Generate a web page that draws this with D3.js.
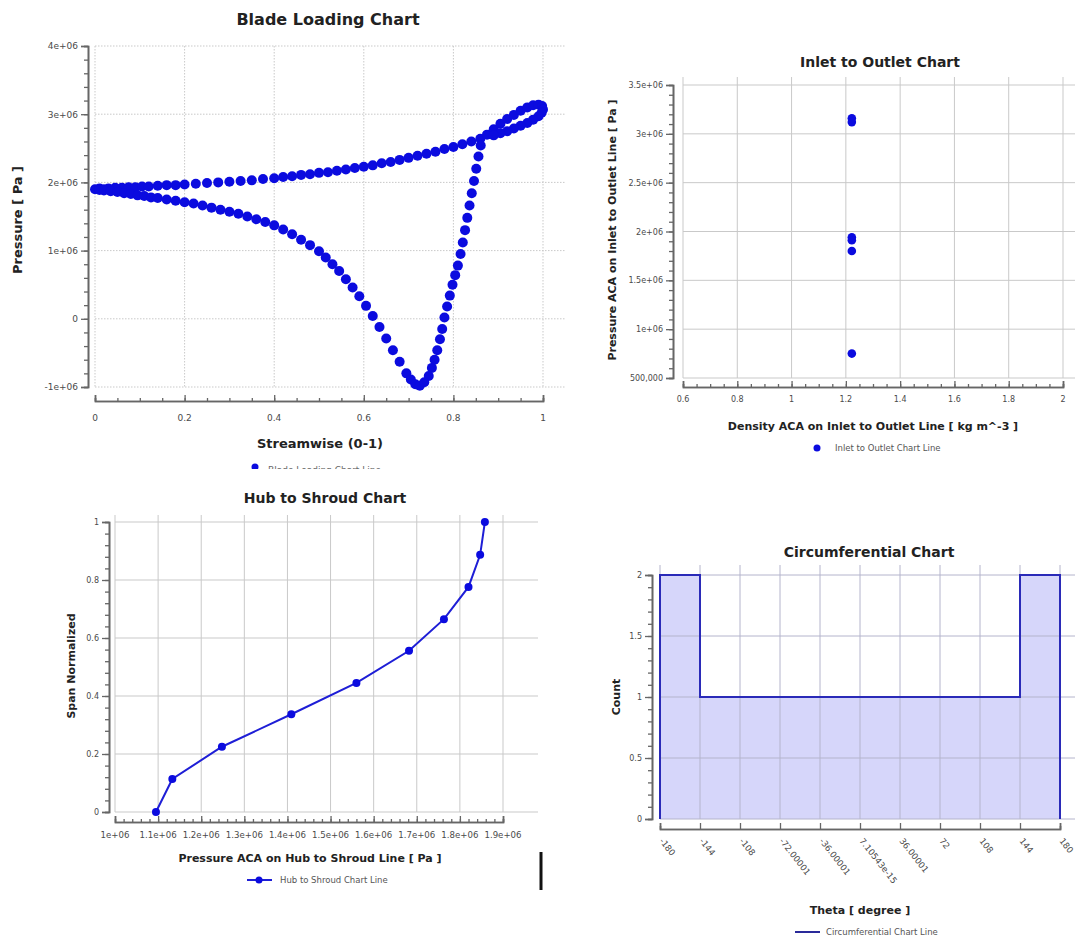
<!DOCTYPE html>
<html>
<head>
<meta charset="utf-8">
<script src="https://cdn.jsdelivr.net/npm/d3@7"></script>
<style>
  body { margin: 0; background: #fff; }
  text { font-family: "DejaVu Sans", Verdana, sans-serif; }
</style>
</head>
<body>
<svg id="canvas" width="1075" height="938"></svg>
<script>
// ---- Blade Loading Chart data (streamwise 0-1, pressure Pa) ----
const bladeUpperX = [0, 0.01, 0.02, 0.03, 0.045, 0.06, 0.075, 0.09, 0.105, 0.12, 0.14, 0.16, 0.18, 0.2, 0.225, 0.25, 0.275, 0.3, 0.325, 0.35, 0.375, 0.4, 0.42, 0.44, 0.46, 0.48, 0.5, 0.52, 0.54, 0.56, 0.58, 0.6, 0.62, 0.64, 0.66, 0.68, 0.7, 0.72, 0.74, 0.76, 0.78, 0.8, 0.82, 0.84, 0.86];
const bladeUpperP = [1.90e6, 1.91e6, 1.90e6, 1.91e6, 1.92e6, 1.92e6, 1.93e6, 1.93e6, 1.94e6, 1.94e6, 1.95e6, 1.96e6, 1.96e6, 1.97e6, 1.98e6, 1.99e6, 2.00e6, 2.01e6, 2.02e6, 2.03e6, 2.05e6, 2.06e6, 2.08e6, 2.09e6, 2.11e6, 2.12e6, 2.14e6, 2.15e6, 2.17e6, 2.19e6, 2.21e6, 2.23e6, 2.25e6, 2.28e6, 2.30e6, 2.33e6, 2.36e6, 2.39e6, 2.42e6, 2.45e6, 2.49e6, 2.52e6, 2.56e6, 2.60e6, 2.64e6];
const bladeLoopX = [0.875, 0.89, 0.905, 0.92, 0.935, 0.95, 0.965, 0.978, 0.99, 0.998, 1.0, 0.997, 0.99, 0.978, 0.965, 0.95, 0.935, 0.92, 0.905, 0.89];
const bladeLoopP = [2.70e6, 2.78e6, 2.86e6, 2.93e6, 2.99e6, 3.05e6, 3.10e6, 3.13e6, 3.14e6, 3.12e6, 3.07e6, 3.02e6, 2.97e6, 2.92e6, 2.87e6, 2.83e6, 2.79e6, 2.75e6, 2.72e6, 2.69e6];
const bladeLowerX = [0.01, 0.02, 0.035, 0.05, 0.065, 0.08, 0.095, 0.11, 0.125, 0.14, 0.16, 0.18, 0.2, 0.22, 0.24, 0.26, 0.28, 0.3, 0.32, 0.34, 0.36, 0.38, 0.4, 0.42, 0.44, 0.46, 0.48, 0.5, 0.515, 0.53, 0.545, 0.56, 0.575, 0.59, 0.605, 0.62, 0.635, 0.65, 0.665, 0.68, 0.695, 0.705, 0.715, 0.725, 0.735, 0.745, 0.752, 0.758, 0.764, 0.77, 0.775, 0.78, 0.786, 0.792, 0.798, 0.804, 0.81, 0.816, 0.821, 0.826, 0.831, 0.836, 0.841, 0.846, 0.851, 0.856, 0.861];
const bladeLowerP = [1.89e6, 1.88e6, 1.87e6, 1.86e6, 1.84e6, 1.83e6, 1.81e6, 1.80e6, 1.78e6, 1.77e6, 1.75e6, 1.73e6, 1.71e6, 1.69e6, 1.66e6, 1.63e6, 1.60e6, 1.57e6, 1.54e6, 1.50e6, 1.46e6, 1.42e6, 1.37e6, 1.31e6, 1.24e6, 1.16e6, 1.08e6, 0.99e6, 0.90e6, 0.80e6, 0.70e6, 0.58e6, 0.46e6, 0.33e6, 0.19e6, 0.04e6, -0.12e6, -0.29e6, -0.46e6, -0.63e6, -0.80e6, -0.89e6, -0.96e6, -0.98e6, -0.93e6, -0.84e6, -0.72e6, -0.60e6, -0.46e6, -0.30e6, -0.15e6, 0.02e6, 0.18e6, 0.34e6, 0.50e6, 0.64e6, 0.78e6, 0.95e6, 1.12e6, 1.30e6, 1.48e6, 1.66e6, 1.84e6, 2.02e6, 2.20e6, 2.38e6, 2.54e6];
const bladeYTicks = [-1e6, 0, 1e6, 2e6, 3e6, 4e6];
const bladeYLabels = ["-1e+06", "0", "1e+06", "2e+06", "3e+06", "4e+06"];
const bladeXTicks = [0, 0.2, 0.4, 0.6, 0.8, 1];
const bladeXLabels = ["0", "0.2", "0.4", "0.6", "0.8", "1"];

// ---- Inlet to Outlet Chart data ----
const inletDensity = [1.222, 1.222, 1.222, 1.222, 1.222, 1.222];
const inletPressure = [3.16e6, 3.12e6, 1.94e6, 1.91e6, 1.80e6, 0.75e6];
const inletYTicks = [5e5, 1e6, 1.5e6, 2e6, 2.5e6, 3e6, 3.5e6];
const inletYLabels = ["500,000", "1e+06", "1.5e+06", "2e+06", "2.5e+06", "3e+06", "3.5e+06"];
const inletXTicks = [0.6, 0.8, 1, 1.2, 1.4, 1.6, 1.8, 2];
const inletXLabels = ["0.6", "0.8", "1", "1.2", "1.4", "1.6", "1.8", "2"];

// ---- Hub to Shroud Chart data ----
const hubPressure = [1.095e6, 1.133e6, 1.248e6, 1.409e6, 1.560e6, 1.682e6, 1.763e6, 1.820e6, 1.847e6, 1.858e6];
const hubSpan = [0, 0.114, 0.225, 0.337, 0.445, 0.556, 0.665, 0.776, 0.887, 1.0];
const hubYTicks = [0, 0.2, 0.4, 0.6, 0.8, 1];
const hubYLabels = ["0", "0.2", "0.4", "0.6", "0.8", "1"];
const hubXTicks = [1e6, 1.1e6, 1.2e6, 1.3e6, 1.4e6, 1.5e6, 1.6e6, 1.7e6, 1.8e6, 1.9e6];
const hubXLabels = ["1e+06", "1.1e+06", "1.2e+06", "1.3e+06", "1.4e+06", "1.5e+06", "1.6e+06", "1.7e+06", "1.8e+06", "1.9e+06"];

// ---- Circumferential Chart data ----
const circBinEdges = [-180, -144, -108, -72, -36, 0, 36, 72, 108, 144, 180];
const circCounts = [2, 1, 1, 1, 1, 1, 1, 1, 1, 2];
const circXLabels = ["-180", "-144", "-108", "-72.00001", "-36.00001", "7.10543e-15", "36.00001", "72", "108", "144", "180"];
const circYTicks = [0, 0.5, 1, 1.5, 2];
const circYLabels = ["0", "0.5", "1", "1.5", "2"];

const svg = d3.select("#canvas");
svg.append("rect").attr("width", 1075).attr("height", 938).attr("fill", "#fff");

const blue = "#0b0bdf";
const gridCol = "#c9c9c9";
const tickCol = "#666";
const labCol = "#4a4a4a";

// draws gridlines, offset axes with minor ticks, axis titles and chart title
const frame = (g, o) => {
  const grid = g.append("g");
  grid.selectAll(".hg").data(o.yTicks).enter().append("line")
    .attr("x1", o.x.range()[0]).attr("x2", o.gridRight)
    .attr("y1", d => o.y(d)).attr("y2", d => o.y(d))
    .attr("stroke", o.gridColor || gridCol).attr("stroke-width", 1)
    .attr("stroke-dasharray", o.dotted ? "1.5,1.5" : null);
  grid.selectAll(".vg").data(o.xTicks).enter().append("line")
    .attr("x1", d => o.x(d)).attr("x2", d => o.x(d))
    .attr("y1", o.gridTop).attr("y2", o.y.range()[0])
    .attr("stroke", o.gridColor || gridCol).attr("stroke-width", 1)
    .attr("stroke-dasharray", o.dotted ? "1.5,1.5" : null);

  // y axis
  const ya = g.append("g").attr("transform", `translate(${o.yAxisX},0)`);
  ya.call(d3.axisLeft(o.y).tickValues(o.yMinor).tickFormat("").tickSize(4));
  ya.call(g2 => g2.append("g").call(d3.axisLeft(o.y).tickValues(o.yTicks).tickFormat((d, i) => o.yLabels[i]).tickSize(7)));
  ya.selectAll("path").attr("stroke", tickCol).attr("stroke-width", 1.6);
  ya.selectAll("line").attr("stroke", tickCol).attr("stroke-width", 1.3);
  ya.selectAll("text").attr("fill", labCol).attr("font-size", o.tickSize || 9);

  // x axis
  const xa = g.append("g").attr("transform", `translate(0,${o.xAxisY})`);
  xa.call(d3.axisTop(o.x).tickValues(o.xMinor).tickFormat("").tickSize(3));
  xa.call(g2 => g2.append("g").call(d3.axisTop(o.x).tickValues(o.xTicks).tickFormat("").tickSize(6)));
  xa.selectAll("path").attr("stroke", tickCol).attr("stroke-width", 1.6);
  xa.selectAll("line").attr("stroke", tickCol).attr("stroke-width", 1.3);
  if (!o.rotLabels) {
    xa.selectAll(".xl").data(o.xTicks).enter().append("text")
      .attr("x", d => o.x(d)).attr("y", o.xLabelDy)
      .attr("text-anchor", "middle").attr("fill", labCol)
      .attr("font-size", o.xTickSize || o.tickSize || 9)
      .text((d, i) => o.xLabels[i]);
  } else {
    xa.selectAll(".xl").data(o.xTicks).enter().append("text")
      .attr("transform", d => `translate(${o.x(d) - 1},${o.xLabelDy}) rotate(52)`)
      .attr("text-anchor", "start").attr("fill", labCol)
      .attr("font-size", o.xTickSize || o.tickSize || 9)
      .text((d, i) => o.xLabels[i]);
  }

  g.append("text").attr("x", o.titleX).attr("y", o.titleY)
    .attr("text-anchor", "middle").attr("font-weight", "bold")
    .attr("font-size", o.titleSize).attr("fill", "#222").text(o.title);
  g.append("text").attr("x", o.xTitleX).attr("y", o.xTitleY)
    .attr("text-anchor", "middle").attr("font-weight", "bold")
    .attr("font-size", o.axisTitleSize).attr("fill", "#222").text(o.xTitle);
  g.append("text").attr("transform", `translate(${o.yTitleX},${o.yTitleY}) rotate(-90)`)
    .attr("text-anchor", "middle").attr("font-weight", "bold")
    .attr("font-size", o.axisTitleSize).attr("fill", "#222").text(o.yTitle);
};

const range = (a, b, s) => d3.range(a, b + s / 2, s);

// ================= Blade Loading =================
svg.append("clipPath").attr("id", "bladeClip").append("rect")
  .attr("x", 0).attr("y", 0).attr("width", 580).attr("height", 469);
const blade = svg.append("g").attr("clip-path", "url(#bladeClip)");
const bx = d3.scaleLinear().domain([0, 1]).range([95, 543]);
const by = d3.scaleLinear().domain([-1e6, 4e6]).range([387, 46]);
frame(blade, {
  x: bx, y: by, xTicks: bladeXTicks, yTicks: bladeYTicks,
  xLabels: bladeXLabels, yLabels: bladeYLabels,
  xMinor: range(0, 1, 0.05), yMinor: range(-1e6, 4e6, 2e5),
  gridRight: 566, gridTop: 46, dotted: true,
  yAxisX: 88, xAxisY: 401, xLabelDy: 20, tickSize: 9,
  title: "Blade Loading Chart", titleX: 328, titleY: 25, titleSize: 16,
  xTitle: "Streamwise (0-1)", xTitleX: 320, xTitleY: 448,
  yTitle: "Pressure [ Pa ]", yTitleX: 22, yTitleY: 220, axisTitleSize: 13
});
const bladePts = [
  ...bladeUpperX.map((d, i) => [d, bladeUpperP[i]]),
  ...bladeLoopX.map((d, i) => [d, bladeLoopP[i]]),
  ...bladeLowerX.map((d, i) => [d, bladeLowerP[i]])
];
blade.selectAll(".bd").data(bladePts).enter().append("circle")
  .attr("cx", d => bx(d[0])).attr("cy", d => by(d[1]))
  .attr("r", 5).attr("fill", blue);
blade.append("circle").attr("cx", 255).attr("cy", 467).attr("r", 3.5).attr("fill", blue);
blade.append("text").attr("x", 268).attr("y", 473).attr("font-size", 9)
  .attr("fill", "#666").text("Blade Loading Chart Line");

// ================= Inlet to Outlet =================
const inlet = svg.append("g");
const ix = d3.scaleLinear().domain([0.6, 2]).range([683, 1063]);
const iy = d3.scaleLinear().domain([5e5, 3.5e6]).range([378, 85]);
frame(inlet, {
  x: ix, y: iy, xTicks: inletXTicks, yTicks: inletYTicks,
  xLabels: inletXLabels, yLabels: inletYLabels,
  xMinor: range(0.6, 2, 0.05), yMinor: range(5e5, 3.5e6, 1e5),
  gridRight: 1075, gridTop: 77, dotted: false,
  yAxisX: 673, xAxisY: 387, xLabelDy: 15, tickSize: 8,
  title: "Inlet to Outlet Chart", titleX: 880, titleY: 67, titleSize: 14,
  xTitle: "Density ACA on Inlet to Outlet Line [ kg m^-3 ]", xTitleX: 873, xTitleY: 430,
  yTitle: "Pressure ACA on Inlet to Outlet Line [ Pa ]", yTitleX: 616, yTitleY: 230, axisTitleSize: 11
});
inlet.selectAll(".id").data(inletDensity).enter().append("circle")
  .attr("cx", d => ix(d)).attr("cy", (d, i) => iy(inletPressure[i]))
  .attr("r", 4.3).attr("fill", blue);
inlet.append("circle").attr("cx", 817).attr("cy", 448).attr("r", 3.5).attr("fill", blue);
inlet.append("text").attr("x", 835).attr("y", 451).attr("font-size", 8.5)
  .attr("fill", "#555").text("Inlet to Outlet Chart Line");

// ================= Hub to Shroud =================
const hub = svg.append("g");
const hx = d3.scaleLinear().domain([1e6, 1.9e6]).range([115, 503]);
const hy = d3.scaleLinear().domain([0, 1]).range([812, 522]);
frame(hub, {
  x: hx, y: hy, xTicks: hubXTicks, yTicks: hubYTicks,
  xLabels: hubXLabels, yLabels: hubYLabels,
  xMinor: range(1.02e6, 1.9e6, 2e4), yMinor: range(0, 1, 0.04),
  gridRight: 538, gridTop: 515, dotted: false,
  yAxisX: 109, xAxisY: 822, xLabelDy: 16, tickSize: 8, xTickSize: 8.6,
  title: "Hub to Shroud Chart", titleX: 325, titleY: 503, titleSize: 14,
  xTitle: "Pressure ACA on Hub to Shroud Line [ Pa ]", xTitleX: 310, xTitleY: 862,
  yTitle: "Span Normalized", yTitleX: 75, yTitleY: 666, axisTitleSize: 11
});
hub.append("path").datum(hubPressure.map((d, i) => [d, hubSpan[i]]))
  .attr("d", d3.line().x(d => hx(d[0])).y(d => hy(d[1])))
  .attr("fill", "none").attr("stroke", "#1e1ed6").attr("stroke-width", 2);
hub.selectAll(".hd").data(hubPressure).enter().append("circle")
  .attr("cx", d => hx(d)).attr("cy", (d, i) => hy(hubSpan[i]))
  .attr("r", 4).attr("fill", blue);
hub.append("line").attr("x1", 247).attr("x2", 272).attr("y1", 880).attr("y2", 880)
  .attr("stroke", "#1e1ed6").attr("stroke-width", 2);
hub.append("circle").attr("cx", 259).attr("cy", 880).attr("r", 3.5).attr("fill", blue);
hub.append("text").attr("x", 280).attr("y", 883).attr("font-size", 8.5)
  .attr("fill", "#555").text("Hub to Shroud Chart Line");
hub.append("line").attr("x1", 541).attr("x2", 541).attr("y1", 852).attr("y2", 890)
  .attr("stroke", "#111").attr("stroke-width", 3);

// ================= Circumferential =================
const circ = svg.append("g");
const cx = d3.scaleLinear().domain([-180, 180]).range([660, 1060]);
const cy = d3.scaleLinear().domain([0, 2]).range([819, 575]);
const steps = [];
circCounts.forEach((c, i) => { steps.push([circBinEdges[i], c]); steps.push([circBinEdges[i + 1], c]); });
const stepPts = [[-180, 0], ...steps, [180, 0]];
circ.append("path").datum(stepPts)
  .attr("d", d3.area().x(d => cx(d[0])).y0(cy(0)).y1(d => cy(d[1])))
  .attr("fill", "#d6d6fa");
frame(circ, {
  x: cx, y: cy, xTicks: circBinEdges, yTicks: circYTicks,
  xLabels: circXLabels, yLabels: circYLabels,
  xMinor: [], yMinor: range(0, 2, 0.1),
  gridRight: 1075, gridTop: 565, dotted: false, rotLabels: true, gridColor: "#b4b4cc",
  yAxisX: 652, xAxisY: 829, xLabelDy: 12, tickSize: 8, xTickSize: 8.6,
  title: "Circumferential Chart", titleX: 869, titleY: 557, titleSize: 14,
  xTitle: "Theta [ degree ]", xTitleX: 860, xTitleY: 914,
  yTitle: "Count", yTitleX: 620, yTitleY: 697, axisTitleSize: 11
});
circ.append("path").datum(stepPts)
  .attr("d", d3.line().x(d => cx(d[0])).y(d => cy(d[1])))
  .attr("fill", "none").attr("stroke", "#2a2ab8").attr("stroke-width", 2);
circ.append("line").attr("x1", 795).attr("x2", 820).attr("y1", 932).attr("y2", 932)
  .attr("stroke", "#2a2a9a").attr("stroke-width", 2);
circ.append("text").attr("x", 826).attr("y", 935).attr("font-size", 8.5)
  .attr("fill", "#555").text("Circumferential Chart Line");
</script>
</body>
</html>
